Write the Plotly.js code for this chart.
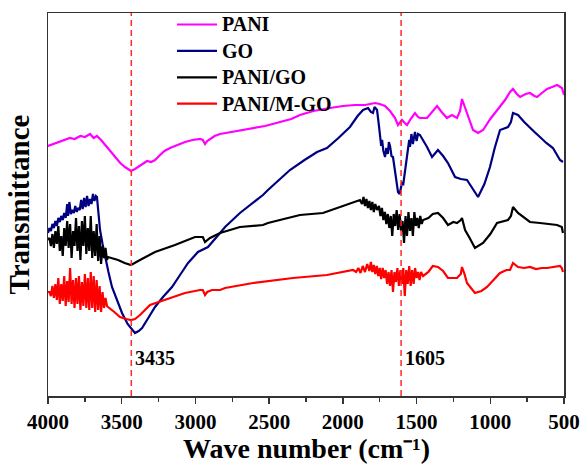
<!DOCTYPE html>
<html>
<head>
<meta charset="utf-8">
<script src="https://cdn.plot.ly/plotly-3.0.1.min.js"></script>
<style>html,body{margin:0;padding:0;background:#fff;}#chart{width:581px;height:466px;}</style>
</head>
<body>
<div id="chart"></div>
<script>
// Wavenumber (cm-1) and transmittance (arbitrary units)
const paniWn = [4000,3960,3920,3880,3851,3820,3780,3750,3715,3690,3668,3640,3613,3580,3546,3510,3478,3455,3437,3410,3376,3350,3328,3300,3274,3240,3210,3172,3120,3071,3020,2969,2950,2935,2920,2901,2870,2833,2760,2698,2600,2528,2426,2350,2291,2200,2087,2000,1918,1850,1782,1750,1714,1680,1646,1626,1610,1599,1580,1565,1540,1511,1490,1477,1429,1400,1361,1330,1294,1260,1226,1205,1192,1175,1158,1117,1083,1049,1000,954,900,866,846,820,798,760,731,700,683,650,615,580,547,514,500];
const paniT  = [250,252,254,256,258,257,260,259,262,258,260,256,251,245,239,233,229,227,225,227,230,233,235,234,236,241,245,248,251,254,256,257,256,252,255,257,260,262,264,266,268,270,274,277,281,285,288,290,291,291,293,292,290,285,278,271,274,276,273,271,277,283,279,278,278,283,290,284,278,281,278,285,297,290,283,266,263,266,277,286,296,304,307,302,299,302,303,300,299,303,307,309,311,308,301];

const goWn = [4000,3990,3980,3970,3960,3950,3940,3930,3920,3910,3900,3890,3880,3870,3864,3855,3845,3835,3825,3815,3805,3797,3785,3775,3765,3755,3745,3735,3725,3715,3705,3695,3685,3675,3668,3660,3647,3630,3613,3590,3566,3530,3498,3460,3430,3410,3385,3362,3320,3274,3220,3159,3100,3050,2983,2915,2833,2799,2698,2620,2542,2508,2430,2359,2260,2175,2108,2030,1952,1900,1863,1845,1829,1810,1796,1785,1768,1755,1745,1740,1734,1725,1714,1705,1695,1688,1680,1670,1660,1645,1635,1626,1615,1599,1590,1575,1560,1550,1545,1535,1525,1511,1500,1490,1477,1450,1429,1395,1355,1320,1287,1239,1200,1158,1120,1083,1040,1002,970,934,880,860,846,812,770,731,700,663,620,575,540,527,507];
const goT  = [163,168,165,172,168,175,170,178,174,180,176,183,178,192,180,194,182,186,183,190,184,188,186,196,187,198,189,200,190,197,192,202,195,200,199,185,166,152,139,124,109,95,83,72,66,63,65,68,78,89,99,109,122,133,144,149,163,169,183,192,201,206,216,226,236,244,248,258,269,280,286,287,288,284,283,289,286,270,260,250,256,245,239,248,242,254,250,240,239,225,212,204,202,213,212,230,245,256,249,262,252,264,255,262,261,255,249,239,246,240,233,219,217,216,208,199,212,229,248,266,269,274,283,281,274,268,264,259,253,248,240,236,234];

const pgWn = [4000,3990,3980,3970,3960,3950,3940,3930,3920,3910,3900,3890,3880,3870,3860,3850,3840,3830,3820,3810,3800,3790,3780,3770,3760,3750,3740,3730,3720,3710,3700,3690,3680,3670,3660,3650,3640,3630,3620,3610,3600,3593,3525,3480,3437,3410,3376,3274,3139,3003,2950,2935,2920,2901,2833,2698,2542,2508,2400,2291,2135,2019,1950,1884,1870,1860,1850,1840,1830,1820,1810,1800,1790,1780,1768,1755,1745,1735,1725,1715,1705,1695,1685,1675,1665,1655,1645,1635,1625,1615,1605,1595,1585,1575,1565,1555,1545,1535,1525,1515,1505,1495,1485,1475,1465,1456,1420,1390,1355,1320,1287,1250,1226,1200,1192,1171,1140,1104,1049,1000,954,910,880,860,846,812,770,731,663,600,547,515,507];
const pgT  = [156,158,150,162,148,165,152,170,145,160,140,168,150,175,148,172,138,165,150,178,145,170,136,175,150,180,142,168,145,180,138,165,140,172,135,160,132,150,138,148,136,139,136,133,131,133,136,144,151,159,159,154,156,158,163,169,171,173,177,181,183,189,193,196,192,199,190,197,188,195,186,194,184,192,186,190,180,188,176,184,172,182,168,180,160,182,170,186,166,182,165,175,153,180,160,184,165,178,160,184,170,178,168,180,172,176,178,182,183,178,171,174,173,176,178,166,158,148,153,162,173,175,176,180,189,183,178,174,173,172,171,169,163];

const pmWn = [4000,3990,3980,3970,3960,3950,3940,3930,3920,3910,3900,3890,3880,3870,3860,3850,3840,3830,3820,3810,3800,3790,3780,3770,3760,3750,3740,3730,3720,3710,3700,3690,3680,3670,3660,3650,3640,3630,3620,3610,3600,3593,3550,3512,3470,3437,3410,3376,3308,3206,3071,2969,2950,2935,2920,2888,2833,2799,2609,2338,2108,1931,1910,1895,1880,1865,1850,1835,1820,1810,1800,1790,1780,1770,1760,1750,1740,1730,1720,1710,1700,1690,1680,1670,1660,1650,1640,1630,1620,1610,1600,1590,1580,1570,1560,1550,1540,1530,1520,1510,1500,1490,1480,1470,1456,1420,1390,1355,1320,1287,1250,1226,1200,1192,1175,1158,1104,1060,1022,980,934,890,866,846,812,770,731,690,650,615,570,527,515,507];
const pmT  = [104,104,100,110,98,112,96,118,92,112,95,120,90,115,94,128,92,116,88,118,92,120,86,114,90,122,88,118,86,124,88,120,84,116,86,110,84,104,88,98,90,89,84,79,77,76,77,81,91,96,103,106,106,101,104,106,106,108,113,118,121,126,124,128,123,130,124,132,125,134,124,131,122,130,120,128,117,128,118,126,112,124,110,126,104,124,114,128,110,126,112,128,100,126,112,130,110,126,112,128,118,124,116,124,120,124,130,129,125,118,118,118,122,129,122,113,103,105,109,116,123,126,126,133,129,128,129,127,128,128,129,130,128,124];

const seriesNames = ["PANI","GO","PANI/GO","PANI/M-GO"];
const seriesColors = ["#ff00ff","#000080","#000000","#ff0000"];
const markWn = [3435,1605];
const markLabels = ["3435","1605"];
const xTickVals = [4000,3500,3000,2500,2000,1500,1000,500];
const xTitle = 'Wave number (cm\u207B\u00B9)';
const yTitle = 'Transmittance';

const xs = [paniWn, goWn, pgWn, pmWn];
const ys = [paniT, goT, pgT, pmT];
const traces = seriesNames.map((n,i)=>({
  type:'scatter', mode:'lines', name:n, x:xs[i], y:ys[i],
  line:{color:seriesColors[i], width:2.2}
}));

const font = "Liberation Serif, Times New Roman, serif";
const W = 581, H = 466, mL = 48, mR = 17, mT = 13, mB = 70;
const pw = W - mL - mR, ph = H - mT - mB;
const px2x = p => (p - mL) / pw;
const py2y = p => (H - mB - p) / ph;

const shapes = markWn.map(w=>({type:'line', xref:'x', yref:'paper', x0:w, x1:w, y0:0, y1:1,
  line:{color:'#ff2a2a', width:1.5, dash:'6px,4px'}}));
const annotations = markWn.map((w,i)=>({xref:'x', yref:'y', x:w, y:38, text:markLabels[i], showarrow:false,
  xanchor:'left', yanchor:'middle', xshift:2, font:{family:font, size:20, color:'#000', weight:'bold'}}));
annotations.push({xref:'paper', yref:'paper', x:0.5, y:py2y(449), xanchor:'center', yanchor:'middle',
  text:xTitle, showarrow:false, font:{family:font, size:28, color:'#000', weight:'bold'}});

// legend drawn as line samples + labels
seriesNames.forEach((n,i)=>{
  const cy = 24.5 + 26.4*i;
  shapes.push({type:'line', xref:'paper', yref:'paper', x0:px2x(177), x1:px2x(217), y0:py2y(cy), y1:py2y(cy),
    line:{color:seriesColors[i], width:2.2}});
  annotations.push({xref:'paper', yref:'paper', x:px2x(220), y:py2y(cy), xanchor:'left', yanchor:'middle',
    text:n, showarrow:false, font:{family:font, size:20, color:'#000', weight:'bold'}});
});

const layout = {
  width:W, height:H,
  margin:{l:mL, r:mR, t:mT, b:mB},
  paper_bgcolor:'#fff', plot_bgcolor:'#fff',
  showlegend:false,
  xaxis:{range:[4000,500], autorange:false, showgrid:false, zeroline:false,
    showline:true, linecolor:'#333', linewidth:1.5, mirror:true,
    tickmode:'array', tickvals:xTickVals, ticks:'outside', ticklen:6, tickwidth:1.5, tickcolor:'#333',
    minor:{dtick:250, ticks:'outside', ticklen:4, tickwidth:1.5, tickcolor:'#333', showgrid:false},
    tickfont:{family:font, size:21, color:'#000', weight:'bold'}},
  yaxis:{range:[0,383], autorange:false, showgrid:false, zeroline:false,
    showline:true, linecolor:'#333', linewidth:1.5, mirror:true,
    showticklabels:false, ticks:'',
    title:{text:yTitle, font:{family:font, size:29, color:'#000', weight:'bold'}, standoff:8}},
  shapes:shapes, annotations:annotations
};
Plotly.newPlot('chart', traces, layout, {displayModeBar:false, staticPlot:true});
</script>
</body>
</html>
